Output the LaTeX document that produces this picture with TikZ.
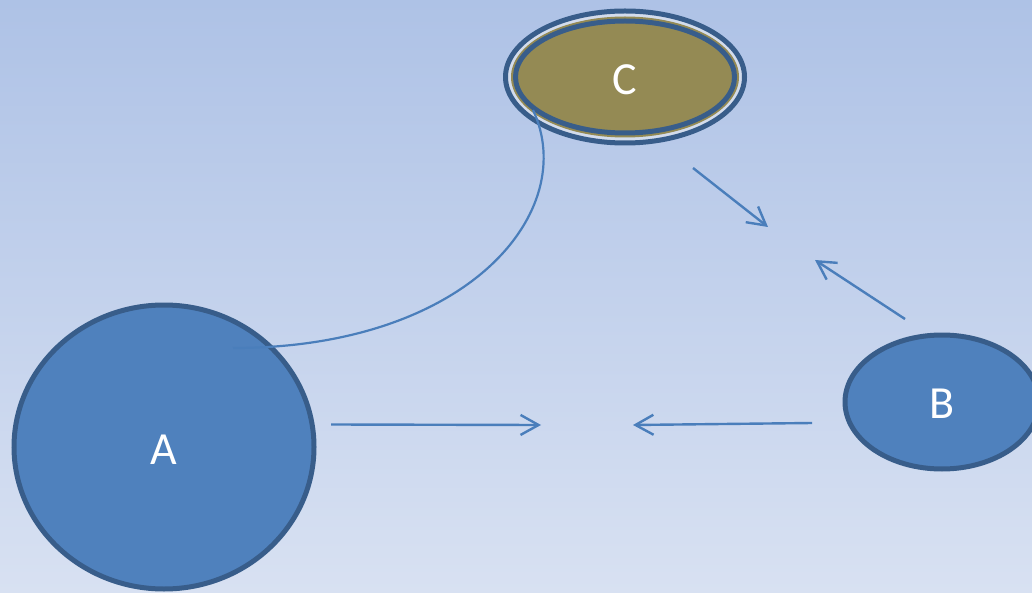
\documentclass[tikz,border=0pt]{standalone}
\usepackage{fontspec}
\setmainfont{Carlito}
\usetikzlibrary{arrows.meta,shapes.geometric}
\definecolor{bgtop}{HTML}{AEC2E6}
\definecolor{bgbot}{HTML}{D8E1F2}
\definecolor{nodefill}{HTML}{4F81BD}
\definecolor{nodeedge}{HTML}{385D8A}
\definecolor{olive}{HTML}{948A54}
\definecolor{band}{HTML}{D3DCEC}
\definecolor{linkc}{HTML}{4A7EBB}
\tikzset{
  x=1pt, y=-1pt,
  bubble/.style={ellipse, fill=nodefill, draw=nodeedge, line width=5pt, inner sep=0pt},
  lab/.style={text=white, font=\fontsize{46}{50}\selectfont},
  link/.style={draw=linkc, line width=2.4pt, -{Straight Barb[length=18pt,width=20pt,line width=2.4pt]}},
  curvelink/.style={draw=linkc, line width=2.2pt}
}
\begin{document}
\begin{tikzpicture}
\useasboundingbox (0,0) rectangle (1032,593);
\clip (0,0) rectangle (1032,593);
\shade[top color=bgtop, bottom color=bgbot] (0,0) rectangle (1032,593);
% A
\node[bubble, minimum width=300pt, minimum height=284pt] (A) at (164,447) {};
\node[lab] (Alab) at (164,450) {A};
% B
\node[bubble, minimum width=194pt, minimum height=134pt] (B) at (942,402) {};
\node[lab] (Blab) at (942,404) {B};
% C with double ring
\node[ellipse, fill=band, draw=nodeedge, line width=5pt, minimum width=239pt, minimum height=132pt, inner sep=0pt] (Couter) at (625,77) {};
\node[ellipse, fill=olive, minimum width=228pt, minimum height=121pt, inner sep=0pt] (Cmid) at (625,77) {};
\node[ellipse, fill=olive, draw=nodeedge, line width=5pt, minimum width=219pt, minimum height=112pt, inner sep=0pt] (C) at (625,77) {};
\node[lab] (Clab) at (625,80) {C};
% free ends
\coordinate (a1) at (331,424.5);
\coordinate (a2) at (541,425);
\coordinate (b1) at (812,423);
\coordinate (b2) at (633,425);
\coordinate (c1) at (693,168);
\coordinate (c2) at (768,227);
\coordinate (d1) at (905,319);
\coordinate (d2) at (815,260);
\coordinate (e1) at (233,348);
\coordinate (e2) at (533,110);
\draw[link] (a1) -- (a2);
\draw[link] (b1) -- (b2);
\draw[link] (c1) -- (c2);
\draw[link] (d1) -- (d2);
\draw[curvelink] (e1) .. controls (470,348) and (580,210) .. (e2);
\end{tikzpicture}
\end{document}
